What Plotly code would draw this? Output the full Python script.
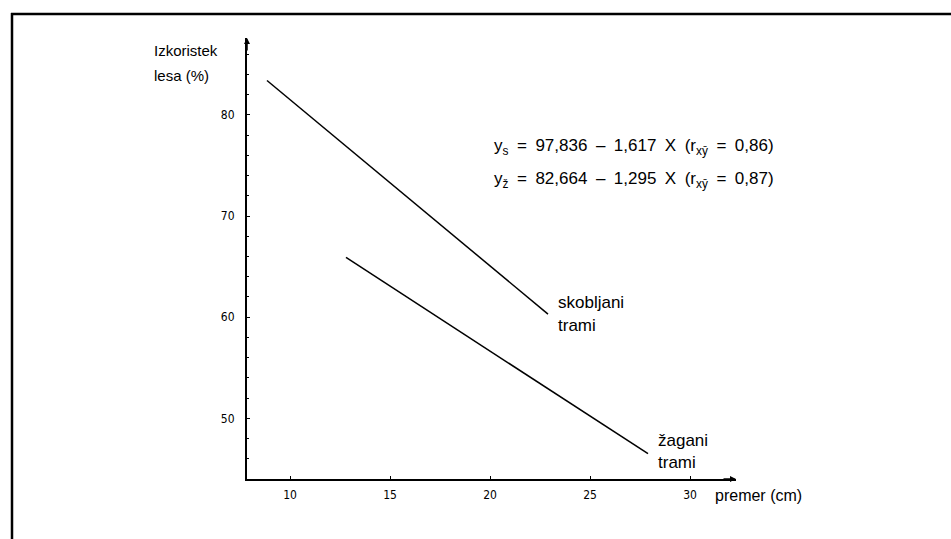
import plotly.graph_objects as go

# ---- data ----
x_ticks = [10, 15, 20, 25, 30]
y_ticks = [50, 60, 70, 80]
skobljani_x = [8.85, 22.9]
skobljani_y = [83.4, 60.3]
zagani_x = [12.8, 27.9]
zagani_y = [65.9, 46.5]
x_range = [7.85, 32.3]
y_range = [44.0, 87.6]

eq1 = "y<sub>s</sub>\u2002=\u200297,836\u2002\u2013\u20021,617\u2002X\u2002(r<sub>xȳ</sub>\u2002=\u20020,86)"
eq2 = "y<sub>ž</sub>\u2002=\u200282,664\u2002\u2013\u20021,295\u2002X\u2002(r<sub>xȳ</sub>\u2002=\u20020,87)"

W, H = 951, 539
L, R, T, B = 247, 736, 38, 479


def px(x):
    return (x - L) / (R - L)


def py(y):
    return (B - y) / (B - T)


FONT = "Liberation Sans, Arial, sans-serif"
TICKFONT = "Liberation Sans Narrow, DejaVu Sans Condensed, Liberation Sans, sans-serif"

fig = go.Figure()
fig.add_trace(go.Scatter(x=skobljani_x, y=skobljani_y, mode="lines",
                         line=dict(color="black", width=1.5), showlegend=False,
                         hoverinfo="skip"))
fig.add_trace(go.Scatter(x=zagani_x, y=zagani_y, mode="lines",
                         line=dict(color="black", width=1.5), showlegend=False,
                         hoverinfo="skip"))

fig.update_layout(
    width=W, height=H,
    margin=dict(l=L, r=W - R, t=T, b=H - B, pad=0),
    paper_bgcolor="white", plot_bgcolor="white",
    showlegend=False,
    font=dict(family=FONT, color="black"),
)
fig.update_xaxes(range=x_range, tick0=10, dtick=5, tickmode="linear",
                 showline=True, linecolor="black", linewidth=2,
                 ticks="inside", ticklen=3, tickcolor="black", tickwidth=1,
                 showgrid=False, zeroline=False,
                 tickfont=dict(family=TICKFONT, size=12, color="black"),
                 ticklabelstandoff=4)
fig.update_yaxes(range=y_range, tick0=50, dtick=10, tickmode="linear",
                 showline=True, linecolor="black", linewidth=2,
                 ticks="inside", ticklen=3, tickcolor="black", tickwidth=1,
                 minor=dict(dtick=2, ticks="inside", ticklen=2, tickcolor="black"),
                 showgrid=False, zeroline=False,
                 tickfont=dict(family=TICKFONT, size=12, color="black"),
                 ticklabelstandoff=8)

annots = [
    dict(text="Izkoristek", x=px(152), y=py(50), size=15),
    dict(text="lesa (%)", x=px(152), y=py(75), size=15),
    dict(text=eq1, x=px(492), y=py(147), size=17),
    dict(text=eq2, x=px(492), y=py(180), size=17),
    dict(text="skobljani", x=px(556), y=py(302), size=17),
    dict(text="trami", x=px(556), y=py(325), size=17),
    dict(text="žagani", x=px(656), y=py(440), size=17),
    dict(text="trami", x=px(656), y=py(462), size=17),
    dict(text="premer (cm)", x=px(713), y=py(496), size=16),
]
for a in annots:
    fig.add_annotation(text=a["text"], x=a["x"], y=a["y"], xref="paper", yref="paper",
                       xanchor="left", yanchor="middle", showarrow=False,
                       font=dict(family=FONT, size=a["size"], color="black"))

# axis arrow heads
fig.add_annotation(x=0, y=1, xref="paper", yref="paper", ax=0, ay=14,
                   showarrow=True, arrowhead=2, arrowsize=0.8, arrowwidth=1.5,
                   arrowcolor="black", text="")
fig.add_annotation(x=1, y=0, xref="paper", yref="paper", ax=-14, ay=0,
                   showarrow=True, arrowhead=2, arrowsize=0.8, arrowwidth=1.5,
                   arrowcolor="black", text="")

# outer frame (top and left border)
fig.add_shape(type="line", xref="paper", yref="paper", x0=px(11), x1=px(951),
              y0=py(14), y1=py(14), line=dict(color="black", width=2.5))
fig.add_shape(type="line", xref="paper", yref="paper", x0=px(12), x1=px(12),
              y0=py(13), y1=py(539), line=dict(color="black", width=2.5))

fig.write_html(
    "out.html",
    config={"displayModeBar": False},
    post_script="document.body.style.margin='0px';document.body.style.overflow='hidden';",
)
